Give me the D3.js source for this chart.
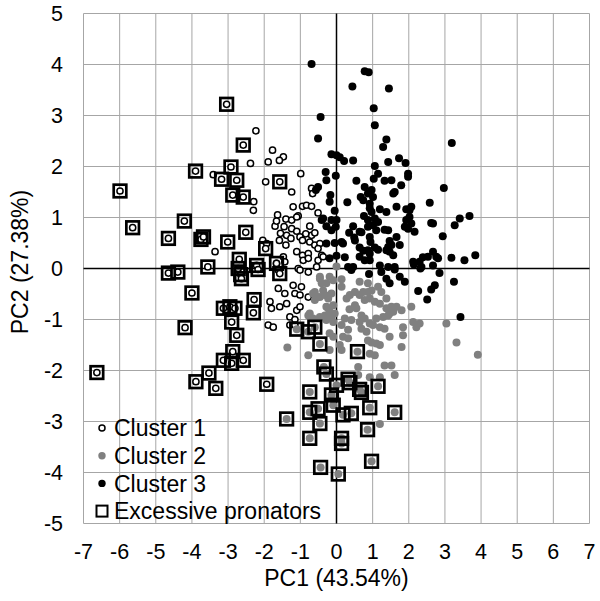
<!DOCTYPE html>
<html lang="en">
<head>
<meta charset="UTF-8">
<title>PCA clusters</title>
<script src="https://cdn.jsdelivr.net/npm/d3@7/dist/d3.min.js"></script>
<style>
    html, body { margin: 0; padding: 0; background: #fff; }
    svg { display: block; font-family: "Liberation Sans", Arial, sans-serif; }
</style>
</head>
<body>
<svg width="600" height="601"></svg>
<script>
// axis ticks
var xTicks = [-7, -6, -5, -4, -3, -2, -1, 0, 1, 2, 3, 4, 5, 6, 7];
var yTicks = [-5, -4, -3, -2, -1, 0, 1, 2, 3, 4, 5];

// cluster 1 (open circles)
var cluster1 = [[-2.23,2.70],[-1.77,2.32],[-1.47,2.19],[-1.58,2.12],[-1.89,2.09],[-2.38,2.06],[-0.99,1.86],[-3.41,1.84],
    [-1.96,1.70],[-1.24,1.50],[-0.69,1.57],[-0.66,1.47],[-2.29,1.31],[-2.30,1.14],[-1.20,1.21],[-0.94,1.22],[-0.83,1.24],
    [-0.69,1.22],[-0.51,1.09],[-1.63,1.05],[-1.40,0.97],[-1.24,0.95],[-1.06,1.03],[-1.70,0.83],[-1.45,0.82],[-1.24,0.78],
    [-1.10,0.73],[-0.74,0.83],[-0.69,0.65],[-1.55,0.69],[-1.58,0.55],[-1.38,0.65],[-1.26,0.59],[-1.01,0.62],[-0.94,0.55],
    [-1.40,0.46],[-0.74,0.52],[-0.60,0.46],[-0.46,0.49],[-1.10,0.33],[-0.94,0.26],[-0.78,0.29],[-0.51,0.39],[-0.41,0.26],
    [-0.92,0.16],[-0.78,0.20],[-0.51,0.16],[-0.37,0.23],[-1.47,0.23],[-1.43,0.13],[-1.06,0.00],[-0.55,0.03],[-3.36,0.33],
    [-2.04,0.55],[-1.93,0.49],[-1.66,0.10],[-1.61,-0.03],[-1.01,-0.03],[-0.78,-0.07],[-1.20,-0.33],[-0.97,-0.36],
    [-1.61,-0.39],[-1.43,-0.49],[-1.15,-0.49],[-1.01,-0.52],[-0.78,-0.56],[-1.84,-0.65],[-1.80,-0.78],[-1.57,-0.75],
    [-1.38,-0.69],[-1.10,-0.82],[-1.01,-0.75],[-1.29,-0.95],[-1.15,-1.00],[-1.89,-1.11],[-1.75,-1.15],[-1.29,-1.11],
    [-1.15,-1.11],[-1.10,1.01],[-1.66,0.93],[-0.60,0.70],[-0.85,0.68]];

// cluster 2 (grey dots)
var cluster2 = [[-0.46,-0.20],[-0.41,-0.29],[-0.14,-0.49],[-0.60,-0.46],[-0.46,-0.56],[-0.32,-0.52],[-0.23,-0.59],
    [0.14,-0.36],[0.14,-0.21],[0.28,-0.59],[0.37,-0.52],[0.51,-0.46],[0.64,-0.52],[0.74,-0.46],[0.87,-0.46],[0.97,-0.43],
    [1.15,-0.36],[1.24,-0.46],[0.64,-0.26],[0.87,-0.29],[0.51,-0.72],[0.55,-0.78],[0.78,-0.62],[0.92,-0.59],[1.06,-0.65],
    [1.20,-0.69],[1.38,-0.59],[-0.09,-0.72],[-0.05,-0.88],[-0.14,-0.95],[-0.09,-1.05],[-0.23,-0.78],[-0.19,-0.85],
    [-0.32,-0.92],[0.14,-1.11],[0.23,-0.98],[0.41,-1.01],[0.69,-0.92],[0.78,-0.98],[0.64,-1.05],[0.92,-1.08],[1.01,-1.11],
    [0.69,-1.18],[0.83,-1.24],[1.10,-0.98],[1.29,-0.95],[1.43,-0.92],[1.20,-1.15],[1.33,-1.18],[1.47,-0.88],[1.57,-0.85],
    [1.38,-0.78],[1.52,-0.75],[1.66,-0.75],[1.80,-0.82],[1.84,-1.15],[1.47,-1.34],[1.84,-1.31],[1.80,-1.54],[1.20,-1.50],
    [1.10,-1.47],[0.87,-1.41],[0.97,-1.45],[0.18,-1.34],[0.32,-1.37],[0.09,-1.50],[0.14,-1.60],[-0.19,-1.60],[0.92,-1.67],
    [1.06,-1.70],[1.33,-1.90],[1.52,-1.90],[0.60,-1.93],[0.92,-2.13],[1.20,-2.13],[1.61,-2.09],[-0.78,-1.70],[2.07,-0.75],
    [2.12,-1.05],[2.30,-1.08],[2.21,-1.15],[3.04,-1.08],[3.32,-1.45],[3.91,-1.69],[1.20,-3.05],[-1.36,-1.55],[-0.74,-0.88],
    [-0.65,-0.49],[-0.37,-0.43],[-0.28,-0.29],[-0.09,-0.23],[-0.46,-0.16],[-0.19,-0.16],[-0.28,-0.75],[-0.55,-0.56],
    [-0.60,-0.62],[-0.46,-0.95],[-0.28,-1.01],[-0.09,-1.34],[-0.19,-1.27],[-0.78,-0.92],[-0.65,-0.98],[0.60,-2.09],
    [0.00,0.04],[0.36,-0.80],[0.32,-1.20]];

// cluster 3 (black dots)
var cluster3 = [[-0.69,4.01],[0.78,3.87],[0.89,3.85],[0.44,3.57],[1.45,3.53],[1.03,3.14],[-0.44,2.97],[1.06,2.81],
    [-0.51,2.55],[1.38,2.53],[1.29,2.38],[3.19,2.46],[-0.14,2.24],[0.00,2.22],[0.09,2.18],[0.21,2.11],[0.46,2.12],
    [-0.02,1.82],[-0.30,1.89],[-0.28,1.73],[-0.51,1.60],[-0.57,1.54],[1.06,2.01],[1.43,2.09],[1.73,2.16],[1.91,2.07],
    [1.15,1.86],[1.03,1.76],[1.98,1.86],[1.98,1.80],[0.55,1.72],[1.33,1.72],[1.52,1.73],[0.78,1.60],[0.97,1.54],
    [0.87,1.47],[1.57,1.47],[1.79,1.63],[2.97,1.58],[1.61,1.50],[0.67,1.40],[0.74,1.34],[1.01,1.40],[0.92,1.27],
    [-0.17,1.44],[-0.19,1.31],[2.58,1.29],[0.92,1.18],[0.97,1.11],[1.20,1.16],[1.38,1.11],[1.66,1.21],[1.93,1.16],
    [2.07,1.21],[2.02,1.14],[-0.05,1.13],[0.76,1.03],[0.87,0.95],[1.06,0.98],[1.15,0.91],[-0.37,0.98],[-0.14,0.95],
    [-0.41,0.95],[2.02,1.01],[1.93,0.95],[2.07,0.88],[3.68,1.03],[3.41,0.98],[3.27,0.85],[2.62,0.89],[2.67,0.88],
    [0.46,0.83],[0.87,0.82],[1.01,0.85],[-0.28,0.83],[-0.02,0.82],[-0.14,0.75],[0.69,0.71],[0.64,0.72],[1.10,0.75],
    [1.33,0.76],[1.43,0.75],[1.89,0.82],[1.98,0.78],[2.16,0.72],[0.49,0.61],[0.51,0.55],[0.92,0.62],[0.94,0.52],
    [1.66,0.62],[1.47,0.54],[1.75,0.46],[1.43,0.42],[1.52,0.46],[2.94,0.63],[-0.05,0.50],[0.14,0.52],[0.18,0.49],
    [-0.28,0.49],[0.64,0.41],[0.74,0.35],[0.87,0.36],[1.06,0.41],[1.15,0.37],[0.92,0.29],[1.38,0.36],[1.47,0.33],
    [1.57,0.26],[2.39,0.22],[2.53,0.23],[2.67,0.33],[2.76,0.23],[2.81,0.20],[3.18,0.21],[3.84,0.26],[3.54,0.16],
    [-0.19,0.20],[0.00,0.25],[0.23,0.22],[0.64,0.23],[0.78,0.16],[0.92,0.16],[2.12,0.13],[2.30,0.13],[2.14,0.08],
    [0.46,0.03],[0.32,0.03],[1.20,0.06],[1.43,0.03],[1.61,0.03],[2.67,0.06],[2.35,0.03],[0.41,-0.03],[0.90,-0.11],
    [1.24,-0.07],[1.38,-0.20],[1.47,-0.29],[1.61,-0.02],[1.75,-0.16],[1.89,-0.26],[2.32,0.00],[2.85,-0.09],[3.25,-0.26],
    [2.72,-0.33],[2.62,-0.41],[2.26,-0.44],[2.51,-0.61],[3.43,-0.95],[0.00,0.95],[0.30,1.30],[0.35,0.70]];

// excessive pronators, split by the cluster of the point inside the square
var pronators1 = [[-3.04,3.22],[-2.58,2.42],[-3.90,1.91],[-2.92,1.99],[-3.18,1.75],[-2.76,1.73],[-1.57,1.70],
    [-2.87,1.44],[-2.58,1.40],[-5.99,1.52],[-5.64,0.80],[-4.21,0.93],[-4.65,0.59],[-3.75,0.57],[-3.68,0.62],
    [-3.01,0.52],[-2.51,0.71],[-1.96,0.39],[-1.66,0.10],[-2.69,0.18],[-2.21,0.06],[-3.56,0.03],[-4.65,-0.09],
    [-4.39,-0.07],[-2.72,0.00],[-2.65,-0.12],[-2.63,-0.20],[-2.17,-0.02],[-1.57,-0.10],[-4.00,-0.48],[-3.13,-0.78],
    [-2.95,-0.75],[-2.81,-0.78],[-2.28,-0.61],[-2.30,-0.87],[-2.90,-1.05],[-4.19,-1.16],[-2.76,-1.31],[-2.87,-1.63],
    [-3.13,-1.80],[-2.90,-1.86],[-2.58,-1.80],[-6.63,-2.04],[-3.53,-2.05],[-3.89,-2.22],[-3.34,-2.35],[-1.93,-2.27]];

var pronators2 = [[-1.10,-1.19],[-0.78,-1.24],[-0.60,-1.15],[-0.46,-1.48],[0.58,-1.63],[-0.35,-1.93],[-0.28,-2.07],
    [0.32,-2.17],[0.37,-2.24],[0.00,-2.29],[0.64,-2.37],[0.69,-2.43],[1.15,-2.31],[-0.74,-2.42],[-0.14,-2.48],
    [-0.09,-2.68],[-0.51,-2.75],[-0.74,-2.82],[0.18,-2.87],[0.41,-2.84],[0.92,-2.73],[1.61,-2.82],[-1.38,-2.95],
    [-0.46,-3.04],[0.86,-3.16],[-0.74,-3.33],[0.14,-3.33],[0.14,-3.43],[0.97,-3.78],[-0.44,-3.90],[0.05,-4.03]];

var legendLabels = ['Cluster 1', 'Cluster 2', 'Cluster 3', 'Excessive pronators'];

var svg = d3.select('svg');

var x = d3.scaleLinear().domain([-7, 7]).range([83.5, 589.5]);
var y = d3.scaleLinear().domain([-5, 5]).range([523.5, 13.5]);

var grey = '#808080';

// grid
var grid = svg.append('g');
grid.selectAll('.vg').data(xTicks).enter().append('line')
    .attr('x1', function (d) { return x(d); }).attr('x2', function (d) { return x(d); })
    .attr('y1', y(5)).attr('y2', y(-5))
    .attr('stroke', '#a6a6a6').attr('stroke-width', 1);
grid.selectAll('.hg').data(yTicks).enter().append('line')
    .attr('x1', x(-7)).attr('x2', x(7))
    .attr('y1', function (d) { return y(d); }).attr('y2', function (d) { return y(d); })
    .attr('stroke', '#a6a6a6').attr('stroke-width', 1);

// zero axes
svg.append('line').attr('x1', x(0)).attr('x2', x(0)).attr('y1', y(5)).attr('y2', y(-5))
    .attr('stroke', '#000').attr('stroke-width', 1.5);
svg.append('line').attr('x1', x(-7)).attr('x2', x(7)).attr('y1', y(0)).attr('y2', y(0))
    .attr('stroke', '#000').attr('stroke-width', 1.5);

// tick labels
svg.append('g').selectAll('text').data(xTicks).enter().append('text')
    .attr('x', function (d) { return x(d); }).attr('y', 559)
    .attr('text-anchor', 'middle').attr('font-size', 21.5).text(function (d) { return d; });
svg.append('g').selectAll('text').data(yTicks).enter().append('text')
    .attr('x', 63).attr('y', function (d) { return y(d) + 7.7; })
    .attr('text-anchor', 'end').attr('font-size', 21.5).text(function (d) { return d; });

// axis titles
svg.append('text').attr('x', x(0)).attr('y', 586).attr('text-anchor', 'middle')
    .attr('font-size', 23).text('PC1 (43.54%)');
svg.append('text').attr('transform', 'translate(28,262) rotate(-90)')
    .attr('text-anchor', 'middle').attr('font-size', 23).text('PC2 (27.38%)');

function openDots(data) {
    svg.append('g').selectAll('circle').data(data).enter().append('circle')
        .attr('cx', function (d) { return x(d[0]); }).attr('cy', function (d) { return y(d[1]); })
        .attr('r', 3.1).attr('fill', '#fff').attr('stroke', '#000').attr('stroke-width', 1.5);
}
function solidDots(data, color) {
    svg.append('g').selectAll('circle').data(data).enter().append('circle')
        .attr('cx', function (d) { return x(d[0]); }).attr('cy', function (d) { return y(d[1]); })
        .attr('r', 4).attr('fill', color);
}

openDots(cluster1.concat(pronators1));
solidDots(cluster2.concat(pronators2), grey);
solidDots(cluster3, '#000');

// squares for excessive pronators
svg.append('g').selectAll('rect').data(pronators1.concat(pronators2)).enter().append('rect')
    .attr('x', function (d) { return x(d[0]) - 6.3; }).attr('y', function (d) { return y(d[1]) - 6.3; })
    .attr('width', 12.6).attr('height', 12.6)
    .attr('fill', 'none').attr('stroke', '#000').attr('stroke-width', 2.7);

// legend
var lg = svg.append('g');
var rowY = function (i) { return 428 + i * 27.7; };
lg.selectAll('text').data(legendLabels).enter().append('text')
    .attr('x', 114).attr('y', function (d, i) { return rowY(i) + 8.2; })
    .attr('font-size', 23).text(function (d) { return d; });
lg.append('circle').attr('cx', 102).attr('cy', rowY(0)).attr('r', 3)
    .attr('fill', '#fff').attr('stroke', '#000').attr('stroke-width', 1.5);
lg.append('circle').attr('cx', 102).attr('cy', rowY(1)).attr('r', 3.7).attr('fill', grey);
lg.append('circle').attr('cx', 102).attr('cy', rowY(2)).attr('r', 3.7).attr('fill', '#000');
lg.append('rect').attr('x', 96.5).attr('y', rowY(3) - 5.5).attr('width', 11).attr('height', 11)
    .attr('fill', 'none').attr('stroke', '#000').attr('stroke-width', 2);
</script>
</body>
</html>
